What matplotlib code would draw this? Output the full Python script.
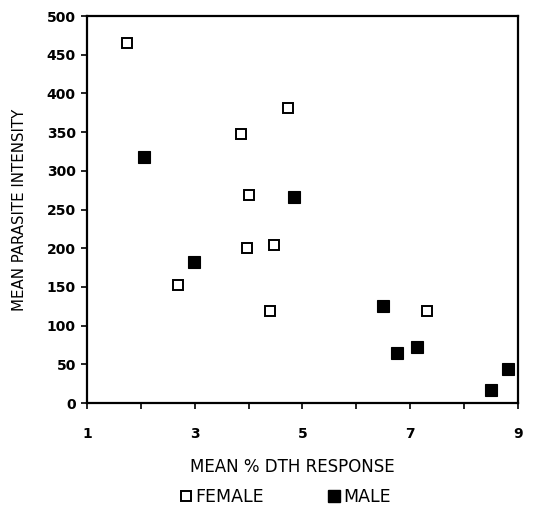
import matplotlib
matplotlib.use("Agg")
import matplotlib.pyplot as plt
from matplotlib.lines import Line2D

# mean % DTH response vs mean parasite intensity
female_x = [1.74, 3.86, 4.73, 4.01, 3.97, 4.47, 2.69, 4.40, 7.31]
female_y = [465, 348, 381, 269, 200, 204, 153, 119, 119]
male_x = [2.06, 2.99, 4.84, 6.50, 6.76, 7.12, 8.50, 8.82]
male_y = [318, 182, 266, 125, 64, 73, 17, 44]

x_ticks = [1, 2, 3, 4, 5, 6, 7, 8, 9]
x_labels = ['1', '', '3', '', '5', '', '7', '', '9']
y_ticks = [0, 50, 100, 150, 200, 250, 300, 350, 400, 450, 500]

plt.rcParams['font.family'] = ['DejaVu Sans']

fig = plt.figure(figsize=(5.33, 5.19), dpi=100)
ax = fig.add_axes([0.163, 0.2235, 0.809, 0.7455])

ax.plot(female_x, female_y, ls='none', marker='s', ms=6.8, mfc='white',
        mec='black', mew=1.4, clip_on=False)
ax.plot(male_x, male_y, ls='none', marker='s', ms=8.3, mfc='black',
        mec='black', mew=0.8, clip_on=False)

ax.set_xlim(1, 9)
ax.set_ylim(0, 500)
ax.set_xticks(x_ticks)
ax.set_xticklabels(x_labels, fontsize=10, fontweight='bold')
ax.set_yticks(y_ticks)
ax.set_yticklabels([str(v) for v in y_ticks], fontsize=10, fontweight='bold')
ax.tick_params(direction='out', length=4, width=1.2, pad=13, axis='x')
ax.tick_params(direction='out', length=4, width=1.2, pad=4, axis='y')
for s in ax.spines.values():
    s.set_linewidth(1.6)

ax.set_xlabel('MEAN % DTH RESPONSE', fontsize=12)
ax.xaxis.set_label_coords(0.477, -0.143)
ax.set_ylabel('MEAN PARASITE INTENSITY', fontsize=10.8)
ax.yaxis.set_label_coords(-0.138, 0.5)

handles = [
    Line2D([], [], ls='none', marker='s', ms=7, mfc='white', mec='black', mew=1.4),
    Line2D([], [], ls='none', marker='s', ms=8.3, mfc='black', mec='black'),
]
fig.legend(handles, ['FEMALE', 'MALE'], loc='center', bbox_to_anchor=(0.537, 0.043),
           ncol=2, frameon=False, fontsize=12.5, handlelength=0.5,
           handletextpad=0.3, columnspacing=3.8)

fig.savefig('out.png', dpi=100)
